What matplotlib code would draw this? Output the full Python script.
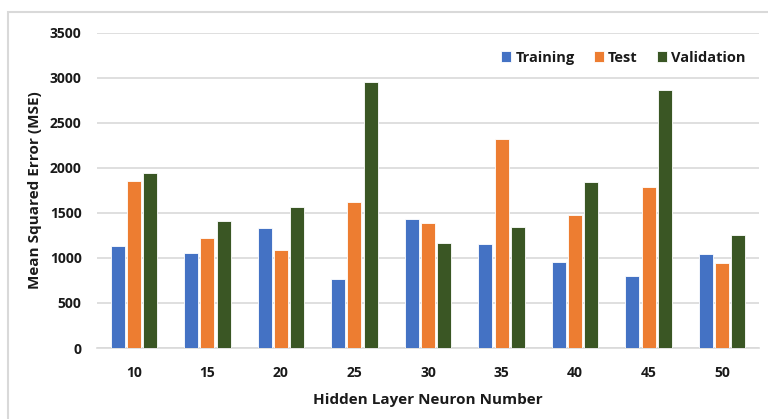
import matplotlib
matplotlib.use('Agg')
import matplotlib.pyplot as plt
import matplotlib.patches as mpatches
import numpy as np

neurons = ['10', '15', '20', '25', '30', '35', '40', '45', '50']
training = [1135, 1057, 1331, 765, 1434, 1157, 957, 798, 1046]
test = [1855, 1220, 1090, 1622, 1393, 2321, 1471, 1785, 938]
validation = [1944, 1412, 1570, 2953, 1168, 1338, 1844, 2865, 1249]

C_TRAIN = '#4472C4'
C_TEST = '#ED7D31'
C_VAL = '#3A5624'

plt.rcParams['font.family'] = ['Open Sans', 'DejaVu Sans']

fig = plt.figure(figsize=(7.68, 4.19), dpi=100)
fig.patch.set_facecolor('white')

# light grey frame round the chart
fig.add_artist(mpatches.Rectangle((8 / 768, -0.05), 1.2, 1 - 12 / 419 + 0.05,
                                  transform=fig.transFigure, facecolor='none',
                                  edgecolor='#D9D9D9', linewidth=1.5))

ax = fig.add_axes([97 / 768, 1 - 348 / 419, 662 / 768, (348 - 32.7) / 419])
x = np.arange(len(neurons))
w = 0.19
off = 0.22
ax.bar(x - off, training, w, color=C_TRAIN, edgecolor='white', linewidth=0.6,
       label='Training', zorder=3)
ax.bar(x, test, w, color=C_TEST, edgecolor='white', linewidth=0.6,
       label='Test', zorder=3)
ax.bar(x + off, validation, w, color=C_VAL, edgecolor='white', linewidth=0.6,
       label='Validation', zorder=3)

ax.set_xlim(-0.5, len(neurons) - 0.5)
ax.set_ylim(0, 3500)
ax.set_yticks(np.arange(0, 3501, 500))
ax.set_xticks(x)
ax.set_xticklabels(neurons)
ax.grid(axis='y', color='#D9D9D9', linewidth=1.2, zorder=0)
for s in ['top', 'right', 'left']:
    ax.spines[s].set_visible(False)
ax.spines['bottom'].set_color('#D9D9D9')
ax.spines['bottom'].set_linewidth(1.2)
ax.tick_params(length=0, labelsize=10)
ax.tick_params(axis='x', pad=13)
ax.tick_params(axis='y', pad=11)
for lab in ax.get_xticklabels() + ax.get_yticklabels():
    lab.set_fontweight('bold')
    lab.set_color('#1a1a1a')

ax.set_ylabel('Mean Squared Error (MSE)', fontsize=11, fontweight='bold',
              color='#1a1a1a', labelpad=6)
ax.set_xlabel('Hidden Layer Neuron Number', fontsize=11, fontweight='bold',
              color='#1a1a1a', labelpad=9)

leg = ax.legend(loc='upper right', bbox_to_anchor=(1.0, 0.985), ncol=3,
                frameon=False, handlelength=0.7, handleheight=0.7,
                handletextpad=0.3, columnspacing=1.3,
                prop={'weight': 'bold', 'size': 10.5})
for t in leg.get_texts():
    t.set_color('#1a1a1a')

plt.savefig('out.png', dpi=100, facecolor='white')
